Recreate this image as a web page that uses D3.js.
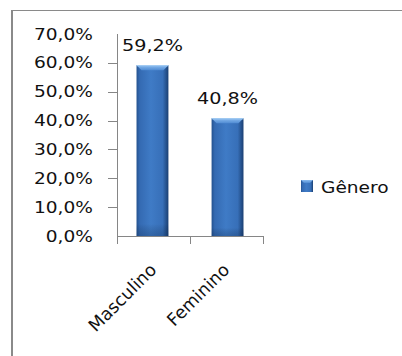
<!DOCTYPE html>
<html><head><meta charset="utf-8">
<script src="https://cdn.jsdelivr.net/npm/d3@7"></script>
<style>html,body{margin:0;padding:0;background:#fff;}svg{display:block;}</style>
</head><body>
<script>
const categories = ["Masculino", "Feminino"];
const values = [0.592, 0.408];
const valueLabels = ["59,2%", "40,8%"];
const yTicks = [0, 0.1, 0.2, 0.3, 0.4, 0.5, 0.6, 0.7];
const yTickLabels = ["0,0%", "10,0%", "20,0%", "30,0%", "40,0%", "50,0%", "60,0%", "70,0%"];
const seriesName = "Gênero";

const W = 402, H = 356;
const SX = 1.24; // horizontal stretch of the text in the reference
const svg = d3.select("body").append("svg").attr("width", W).attr("height", H);
const defs = svg.append("defs");

const g1 = defs.append("linearGradient").attr("id", "barH").attr("x1", 0).attr("x2", 1).attr("y1", 0).attr("y2", 0);
[[0, "#24528f"], [0.1, "#346ab2"], [0.45, "#3f7bc6"], [0.82, "#376fb8"], [1, "#1a3f72"]]
  .forEach(([o, c]) => g1.append("stop").attr("offset", o).attr("stop-color", c));
const g2 = defs.append("linearGradient").attr("id", "barV").attr("x1", 0).attr("x2", 0).attr("y1", 0).attr("y2", 1);
[[0, "#000", 0], [0.93, "#000", 0], [1, "#0a2448", 0.25]]
  .forEach(([o, c, a]) => g2.append("stop").attr("offset", o).attr("stop-color", c).attr("stop-opacity", a));
const g3 = defs.append("linearGradient").attr("id", "bevel").attr("x1", 0).attr("x2", 0).attr("y1", 0).attr("y2", 1);
[[0, "#8cbdf0"], [1, "#4f8bd3"]]
  .forEach(([o, c]) => g3.append("stop").attr("offset", o).attr("stop-color", c));

// frame
svg.append("line").attr("x1", 12).attr("x2", 12).attr("y1", 10).attr("y2", H)
  .attr("stroke", "#8a8a8a").attr("stroke-width", 2);
svg.append("line").attr("x1", 11).attr("x2", W).attr("y1", 10.5).attr("y2", 10.5)
  .attr("stroke", "#8a8a8a").attr("stroke-width", 1.2);

const x = d3.scaleBand().domain(categories).range([117, 263]).paddingInner(0.575).paddingOuter(0.26);
const xStep = d3.scaleBand().domain(categories).range([117, 263]).padding(0);
const y = d3.scaleLinear().domain([0, 0.7]).range([236, 34]);

function sText(sel, px, py, str, anchor, size) {
  const g = sel.append("g").attr("transform", `translate(${px},${py}) scale(${SX},1)`);
  g.append("text").attr("text-anchor", anchor).attr("font-family", "DejaVu Sans")
    .attr("font-size", size).attr("fill", "#111").text(str);
  return g;
}

// y axis
const axisColor = "#868686";
svg.append("line").attr("x1", 117.5).attr("x2", 117.5).attr("y1", y(0.7)).attr("y2", y(0))
  .attr("stroke", axisColor);
yTicks.forEach((t, i) => {
  if (t > 0 && t < 0.7) {
    svg.append("line").attr("x1", 108).attr("x2", 117.5).attr("y1", Math.round(y(t)) + 0.5).attr("y2", Math.round(y(t)) + 0.5)
      .attr("stroke", axisColor);
  }
  sText(svg, 93, y(t) + 5.5, yTickLabels[i], "end", 15);
});

// x axis
svg.append("line").attr("x1", 117).attr("x2", 263.5).attr("y1", y(0) + 0.5).attr("y2", y(0) + 0.5)
  .attr("stroke", axisColor);
const tickXs = [xStep(categories[0]), xStep(categories[1]), xStep(categories[1]) + xStep.step()];
tickXs.forEach(tx => {
  svg.append("line").attr("x1", Math.round(tx) + 0.5).attr("x2", Math.round(tx) + 0.5)
    .attr("y1", y(0)).attr("y2", y(0) + 8).attr("stroke", axisColor);
});

// bars
categories.forEach((c, i) => {
  const bx = x(c), bw = x.bandwidth(), by = y(values[i]), bh = y(0) - by;
  svg.append("rect").attr("x", bx).attr("y", by).attr("width", bw).attr("height", bh).attr("fill", "url(#barH)");
  svg.append("rect").attr("x", bx).attr("y", by).attr("width", bw).attr("height", bh).attr("fill", "url(#barV)");
  const b = 5;
  svg.append("polygon")
    .attr("points", `${bx},${by} ${bx + bw},${by} ${bx + bw - b},${by + b} ${bx + b},${by + b}`)
    .attr("fill", "url(#bevel)");
  svg.append("line").attr("x1", bx).attr("x2", bx + bw).attr("y1", by + 0.5).attr("y2", by + 0.5)
    .attr("stroke", "#a9d0f5").attr("stroke-width", 1);
  // data label
  sText(svg, x(c) + bw / 2, by - 14, valueLabels[i], "middle", 15.5);
  // category label
  const cx = xStep(c) + xStep.bandwidth() / 2;
  svg.append("text").attr("transform", `translate(${cx + 4},${y(0) + 35}) rotate(-45)`)
    .attr("text-anchor", "end").attr("font-family", "DejaVu Sans").attr("font-size", 17.5)
    .attr("fill", "#111").text(c);
});

// legend
const lg = svg.append("g");
lg.append("rect").attr("x", 301).attr("y", 180).attr("width", 12).attr("height", 12).attr("fill", "url(#barH)");
lg.append("polygon").attr("points", "301,180 313,180 310,183 304,183").attr("fill", "url(#bevel)");
sText(lg, 321, 192.5, seriesName, "start", 15);
</script>
</body></html>
